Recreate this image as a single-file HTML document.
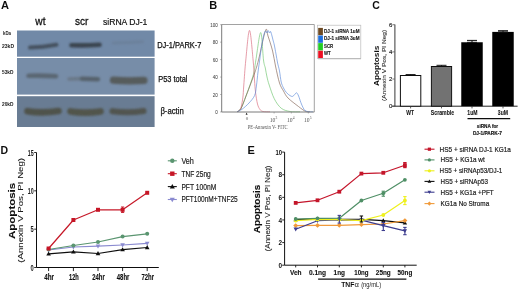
<!DOCTYPE html><html><head><meta charset="utf-8"><style>html,body{margin:0;padding:0;background:#fff;}svg{display:block;font-family:"Liberation Sans",sans-serif;}</style></head><body>
<svg width="520" height="290" viewBox="0 0 520 290">
<defs><filter id="b1" x="-20%" y="-50%" width="140%" height="200%"><feGaussianBlur stdDeviation="1.3"/></filter><filter id="b2" x="-20%" y="-50%" width="140%" height="200%"><feGaussianBlur stdDeviation="0.6"/></filter><filter id="bs" x="-5%" y="-5%" width="110%" height="110%"><feGaussianBlur stdDeviation="0.35"/></filter><filter id="gall" x="0" y="0" width="520" height="290" filterUnits="userSpaceOnUse"><feGaussianBlur stdDeviation="0.35"/></filter></defs>
<rect width="520" height="290" fill="#fff"/>
<g filter="url(#gall)">
<rect width="520" height="290" fill="#fff"/>
<g>
<text x="0.9" y="9" font-size="11.5" font-weight="bold" text-anchor="start" fill="#111" textLength="8" lengthAdjust="spacingAndGlyphs">A</text>
<text x="35.3" y="25.4" font-size="11.8" text-anchor="start" fill="#111" textLength="10.2" lengthAdjust="spacingAndGlyphs" stroke="#111" stroke-width="0.3">wt</text>
<text x="75" y="25.4" font-size="11.8" text-anchor="start" fill="#111" textLength="13.5" lengthAdjust="spacingAndGlyphs" stroke="#111" stroke-width="0.3">scr</text>
<text x="103" y="25.4" font-size="9.9" text-anchor="start" fill="#111" textLength="44.4" lengthAdjust="spacingAndGlyphs" stroke="#111" stroke-width="0.2">siRNA DJ-1</text>
<rect x="17" y="30.5" width="137.6" height="26.2" fill="#7189a7" stroke="none" stroke-width="0"/>
<rect x="17" y="58.0" width="137.6" height="36.6" fill="#778da8" stroke="none" stroke-width="0"/>
<rect x="17" y="96.2" width="137.6" height="30.8" fill="#697c93" stroke="none" stroke-width="0"/>
<g filter="url(#b1)">
<path d="M30,47.6 Q43,47.2 56.5,44.8" stroke="#45515e" stroke-width="4" stroke-linecap="round" fill="none"/>
<path d="M71.5,45.2 Q85,45.6 99.5,44.8" stroke="#3a4450" stroke-width="4.6" stroke-linecap="round" fill="none"/>
<path d="M113,43 Q128,42.6 142.5,41.8" stroke="#6c819b" stroke-width="3" stroke-linecap="round" fill="none"/>
<path d="M28.5,75.8 Q42,75.4 56,76.2" stroke="#5a6672" stroke-width="4.6" stroke-linecap="round" fill="none"/>
<path d="M69,79 Q77,78.6 82,78.6" stroke="#6a7888" stroke-width="3.6" stroke-linecap="round" fill="none"/>
<path d="M82,78.8 Q90,78.8 98,79.2" stroke="#56626c" stroke-width="4.4" stroke-linecap="round" fill="none"/>
<path d="M113.5,80.2 Q128,81.4 144,80.4" stroke="#575c5c" stroke-width="7.2" stroke-linecap="round" fill="none"/>
<path d="M27.5,111.2 Q42,113.6 58.5,111" stroke="#50534c" stroke-width="6.6" stroke-linecap="round" fill="none"/>
<path d="M70.5,111.4 Q85,113.8 100.5,111.4" stroke="#51544c" stroke-width="6.6" stroke-linecap="round" fill="none"/>
<path d="M112.5,111.2 Q128,113.4 143.5,111" stroke="#515550" stroke-width="6.2" stroke-linecap="round" fill="none"/>
</g>
<text x="3" y="34.5" font-size="4.8" font-weight="bold" text-anchor="start" fill="#222" textLength="8" lengthAdjust="spacingAndGlyphs">kDa</text>
<text x="2" y="48" font-size="6" font-weight="bold" text-anchor="start" fill="#1a1a1a" textLength="12" lengthAdjust="spacingAndGlyphs">23kD</text>
<text x="2" y="74" font-size="6" font-weight="bold" text-anchor="start" fill="#1a1a1a" textLength="11.5" lengthAdjust="spacingAndGlyphs">53kD</text>
<text x="2" y="105.5" font-size="6" font-weight="bold" text-anchor="start" fill="#1a1a1a" textLength="11.5" lengthAdjust="spacingAndGlyphs">20kD</text>
<text x="157.2" y="48.2" font-size="8.4" text-anchor="start" fill="#111" textLength="44.3" lengthAdjust="spacingAndGlyphs" stroke="#111" stroke-width="0.25">DJ-1/PARK-7</text>
<text x="158.2" y="81.5" font-size="8.8" text-anchor="start" fill="#111" textLength="29.3" lengthAdjust="spacingAndGlyphs" stroke="#111" stroke-width="0.25">P53 total</text>
<text x="160.4" y="113.5" font-size="9" text-anchor="start" fill="#111" textLength="23.4" lengthAdjust="spacingAndGlyphs" stroke="#111" stroke-width="0.25">β-actin</text>
</g>
<text x="209.3" y="9" font-size="11" font-weight="bold" text-anchor="start" fill="#111">B</text>
<line x1="221.7" y1="24.5" x2="314.3" y2="24.5" stroke="#8a8a8a" stroke-width="0.8"/>
<line x1="314.3" y1="24.5" x2="314.3" y2="112" stroke="#8a8a8a" stroke-width="0.8"/>
<line x1="221.7" y1="24.5" x2="221.7" y2="112" stroke="#7a7a7a" stroke-width="1"/>
<text x="217.7" y="26.7" font-size="4.5" text-anchor="end" fill="#4a4a4a" stroke="#4a4a4a" stroke-width="0.05">100</text>
<line x1="220.2" y1="24.7" x2="221.7" y2="24.7" stroke="#777" stroke-width="0.6"/>
<text x="217.7" y="44.15" font-size="4.5" text-anchor="end" fill="#4a4a4a" stroke="#4a4a4a" stroke-width="0.05">80</text>
<line x1="220.2" y1="42.15" x2="221.7" y2="42.15" stroke="#777" stroke-width="0.6"/>
<text x="217.7" y="61.599999999999994" font-size="4.5" text-anchor="end" fill="#4a4a4a" stroke="#4a4a4a" stroke-width="0.05">60</text>
<line x1="220.2" y1="59.599999999999994" x2="221.7" y2="59.599999999999994" stroke="#777" stroke-width="0.6"/>
<text x="217.7" y="79.05" font-size="4.5" text-anchor="end" fill="#4a4a4a" stroke="#4a4a4a" stroke-width="0.05">40</text>
<line x1="220.2" y1="77.05" x2="221.7" y2="77.05" stroke="#777" stroke-width="0.6"/>
<text x="217.7" y="96.5" font-size="4.5" text-anchor="end" fill="#4a4a4a" stroke="#4a4a4a" stroke-width="0.05">20</text>
<line x1="220.2" y1="94.5" x2="221.7" y2="94.5" stroke="#777" stroke-width="0.6"/>
<text x="217.7" y="113.95" font-size="4.5" text-anchor="end" fill="#4a4a4a" stroke="#4a4a4a" stroke-width="0.05">0</text>
<line x1="220.2" y1="111.95" x2="221.7" y2="111.95" stroke="#777" stroke-width="0.6"/>
<polygon points="246.6,112.6 245.6,114.8 247.6,114.8" fill="#222"/>
<text x="247" y="120.2" font-size="5" font-family="Liberation Serif, serif" text-anchor="middle" fill="#555">0</text>
<text x="272.6" y="122.2" font-size="5.6" font-family="Liberation Serif, serif" text-anchor="middle" fill="#555">10</text>
<text x="275.5" y="118.8" font-size="3.6" font-family="Liberation Serif, serif" text-anchor="start" fill="#555">3</text>
<line x1="274.1" y1="112" x2="274.1" y2="113.5" stroke="#888" stroke-width="0.6"/>
<text x="289.8" y="122.2" font-size="5.6" font-family="Liberation Serif, serif" text-anchor="middle" fill="#555">10</text>
<text x="292.7" y="118.8" font-size="3.6" font-family="Liberation Serif, serif" text-anchor="start" fill="#555">4</text>
<line x1="291.3" y1="112" x2="291.3" y2="113.5" stroke="#888" stroke-width="0.6"/>
<text x="306.8" y="122.2" font-size="5.6" font-family="Liberation Serif, serif" text-anchor="middle" fill="#555">10</text>
<text x="309.7" y="118.8" font-size="3.6" font-family="Liberation Serif, serif" text-anchor="start" fill="#555">5</text>
<line x1="308.3" y1="112" x2="308.3" y2="113.5" stroke="#888" stroke-width="0.6"/>
<text x="247.7" y="128.6" font-size="5.4" font-family="Liberation Serif, serif" text-anchor="start" fill="#555" textLength="40" lengthAdjust="spacingAndGlyphs">PE-Annexin V- FITC</text>
<path d="M237,111.8 C237.67,111.25 239.50,111.13 241,108.5 C242.50,105.87 244.33,100.42 246,96 C247.67,91.58 249.67,86.00 251,82 C252.33,78.00 253.18,75.67 254,72 C254.82,68.33 254.78,66.58 255.9,60 C257.02,53.42 259.43,32.50 260.7,32.5 C261.97,32.50 262.73,54.08 263.5,60 C264.27,65.92 264.72,65.17 265.3,68 C265.88,70.83 266.35,74.17 267,77 C267.65,79.83 267.98,81.37 269.2,85 C270.42,88.63 272.30,94.93 274.3,98.8 C276.30,102.67 278.58,106.08 281.2,108.2 C283.82,110.32 286.87,110.90 290,111.5 C293.13,112.10 298.33,111.75 300,111.8" fill="none" stroke="#6cc46c" stroke-width="0.65" stroke-linejoin="round"/>
<path d="M237,111.8 C237.58,111.33 239.53,111.30 240.5,109 C241.47,106.70 242.25,102.00 242.8,98 C243.35,94.00 243.30,91.33 243.8,85 C244.30,78.67 244.85,69.10 245.8,60 C246.75,50.90 248.28,30.40 249.5,30.4 C250.72,30.40 252.27,51.73 253.1,60 C253.93,68.27 254.10,74.67 254.5,80 C254.90,85.33 255.00,88.00 255.5,92 C256.00,96.00 256.75,101.08 257.5,104 C258.25,106.92 259.08,108.25 260,109.5 C260.92,110.75 261.33,111.12 263,111.5 C264.67,111.88 268.83,111.75 270,111.8" fill="none" stroke="#d8687a" stroke-width="0.65" stroke-linejoin="round"/>
<path d="M237,111.8 C237.67,111.25 239.50,111.13 241,108.5 C242.50,105.87 244.33,100.25 246,96 C247.67,91.75 249.50,87.00 251,83 C252.50,79.00 253.75,75.83 255,72 C256.25,68.17 256.75,66.92 258.5,60 C260.25,53.08 263.92,34.50 265.5,30.5 C267.08,26.50 266.82,32.58 268,36 C269.18,39.42 271.35,46.00 272.6,51 C273.85,56.00 274.35,60.67 275.5,66 C276.65,71.33 278.17,78.83 279.5,83 C280.83,87.17 282.08,88.50 283.5,91 C284.92,93.50 285.50,95.42 288,98 C290.50,100.58 295.60,104.28 298.5,106.5 C301.40,108.72 303.48,110.42 305.4,111.3 C307.32,112.18 309.23,111.72 310,111.8" fill="none" stroke="#806050" stroke-width="0.65" stroke-linejoin="round"/>
<path d="M237,111.8 C237.83,111.38 240.00,110.77 242,109.3 C244.00,107.83 246.90,105.30 249,103 C251.10,100.70 253.37,98.33 254.6,95.5 C255.83,92.67 255.83,89.92 256.4,86 C256.97,82.08 257.45,76.33 258,72 C258.55,67.67 259.10,64.33 259.7,60 C260.30,55.67 260.92,50.17 261.6,46 C262.28,41.83 263.13,37.50 263.8,35 C264.47,32.50 265.07,31.33 265.6,31 C266.13,30.67 266.57,33.07 267,33 C267.43,32.93 267.78,30.60 268.2,30.6 C268.62,30.60 269.10,32.85 269.5,33 C269.90,33.15 270.18,31.00 270.6,31.5 C271.02,32.00 271.60,34.58 272,36 C272.40,37.42 272.62,38.50 273,40 C273.38,41.50 273.80,42.67 274.3,45 C274.80,47.33 275.45,51.00 276,54 C276.55,57.00 277.02,60.17 277.6,63 C278.18,65.83 278.90,67.83 279.5,71 C280.10,74.17 280.53,79.17 281.2,82 C281.87,84.83 282.63,86.25 283.5,88 C284.37,89.75 285.32,91.23 286.4,92.5 C287.48,93.77 288.97,94.95 290,95.6 C291.03,96.25 291.83,96.57 292.6,96.4 C293.37,96.23 293.93,95.20 294.6,94.6 C295.27,94.00 295.93,92.57 296.6,92.8 C297.27,93.03 297.90,94.40 298.6,96 C299.30,97.60 300.07,100.48 300.8,102.4 C301.53,104.32 302.30,106.15 303,107.5 C303.70,108.85 304.17,109.82 305,110.5 C305.83,111.18 306.67,111.38 308,111.6 C309.33,111.82 312.17,111.77 313,111.8" fill="none" stroke="#5a88d8" stroke-width="0.65" stroke-linejoin="round"/>
<line x1="221.7" y1="112" x2="314.3" y2="112" stroke="#7a7a7a" stroke-width="1"/>
<rect x="317.6" y="25.2" width="43.2" height="33.2" fill="#fff" stroke="#bbb" stroke-width="0.7"/>
<line x1="318" y1="58.6" x2="361" y2="58.6" stroke="#bbb" stroke-width="1.2"/>
<rect x="318.2" y="27.9" width="4.7" height="7.3" fill="#6e4a20" stroke="none" stroke-width="0"/>
<text x="324" y="32.6" font-size="6" font-weight="bold" text-anchor="start" fill="#1a1a1a" textLength="35.5" lengthAdjust="spacingAndGlyphs" stroke="#1a1a1a" stroke-width="0.15">DJ-1 siRNA 1uM</text>
<rect x="318.2" y="35.5" width="4.7" height="7.3" fill="#1f6fe0" stroke="none" stroke-width="0"/>
<text x="324" y="40.2" font-size="6" font-weight="bold" text-anchor="start" fill="#1a1a1a" textLength="35.5" lengthAdjust="spacingAndGlyphs" stroke="#1a1a1a" stroke-width="0.15">DJ-1 siRNA 3uM</text>
<rect x="318.2" y="43.099999999999994" width="4.7" height="7.3" fill="#22cc22" stroke="none" stroke-width="0"/>
<text x="324" y="47.8" font-size="6" font-weight="bold" text-anchor="start" fill="#1a1a1a" textLength="9.2" lengthAdjust="spacingAndGlyphs" stroke="#1a1a1a" stroke-width="0.15">SCR</text>
<rect x="318.2" y="50.699999999999996" width="4.7" height="7.3" fill="#ee1122" stroke="none" stroke-width="0"/>
<text x="324" y="55.4" font-size="6" font-weight="bold" text-anchor="start" fill="#1a1a1a" textLength="6.6" lengthAdjust="spacingAndGlyphs" stroke="#1a1a1a" stroke-width="0.15">WT</text>
<text x="372.3" y="9" font-size="10.5" font-weight="bold" text-anchor="start" fill="#111">C</text>
<line x1="394.85" y1="24.4" x2="394.85" y2="106.2" stroke="#7a7a7a" stroke-width="1.5"/>
<line x1="392.2" y1="106.2" x2="517.6" y2="106.2" stroke="#222" stroke-width="1"/>
<line x1="392.4" y1="106.2" x2="394.8" y2="106.2" stroke="#555" stroke-width="0.8"/>
<text x="392.4" y="108.3" font-size="6" text-anchor="end" fill="#222" stroke="#222" stroke-width="0.15">0</text>
<line x1="392.4" y1="79.04" x2="394.8" y2="79.04" stroke="#555" stroke-width="0.8"/>
<text x="392.4" y="81.14" font-size="6" text-anchor="end" fill="#222" stroke="#222" stroke-width="0.15">2</text>
<line x1="392.4" y1="51.88" x2="394.8" y2="51.88" stroke="#555" stroke-width="0.8"/>
<text x="392.4" y="53.980000000000004" font-size="6" text-anchor="end" fill="#222" stroke="#222" stroke-width="0.15">4</text>
<line x1="392.4" y1="24.72" x2="394.8" y2="24.72" stroke="#555" stroke-width="0.8"/>
<text x="392.4" y="26.82" font-size="6" text-anchor="end" fill="#222" stroke="#222" stroke-width="0.15">6</text>
<text transform="translate(378.7,65.8) scale(0.8,1) rotate(-90)" x="0" y="0" font-size="8.2" font-weight="bold" text-anchor="middle" fill="#111" textLength="40.2" lengthAdjust="spacingAndGlyphs">Apoptosis</text>
<text transform="translate(386.1,65.4) scale(0.9,1) rotate(-90)" x="0" y="0" font-size="6.3" text-anchor="middle" fill="#2a2a2a" textLength="71.2" lengthAdjust="spacingAndGlyphs" stroke="#2a2a2a" stroke-width="0.1">(Annexin V Pos, PI Neg)</text>
<rect x="400.4" y="75.5" width="20.4" height="30.700000000000003" fill="#fff" stroke="#111" stroke-width="1"/>
<rect x="431.4" y="66.5" width="20.2" height="39.7" fill="#727272" stroke="#111" stroke-width="1"/>
<rect x="461.25" y="42.25" width="21.5" height="63.95" fill="#050505" stroke="none" stroke-width="0"/>
<rect x="492.25" y="31.9" width="21.5" height="74.30000000000001" fill="#050505" stroke="none" stroke-width="0"/>
<line x1="410.6" y1="74.6" x2="410.6" y2="75.5" stroke="#111" stroke-width="1"/>
<line x1="405.6" y1="74.6" x2="415.6" y2="74.6" stroke="#111" stroke-width="1"/>
<line x1="405.6" y1="75.5" x2="415.6" y2="75.5" stroke="#111" stroke-width="1"/>
<line x1="441.5" y1="65.3" x2="441.5" y2="66.5" stroke="#111" stroke-width="1"/>
<line x1="436.5" y1="65.3" x2="446.5" y2="65.3" stroke="#111" stroke-width="1"/>
<line x1="436.5" y1="66.5" x2="446.5" y2="66.5" stroke="#111" stroke-width="1"/>
<line x1="472" y1="40.4" x2="472" y2="42.3" stroke="#111" stroke-width="1"/>
<line x1="467" y1="40.4" x2="477" y2="40.4" stroke="#111" stroke-width="1"/>
<line x1="467" y1="42.3" x2="477" y2="42.3" stroke="#111" stroke-width="1"/>
<line x1="503" y1="30.7" x2="503" y2="31.9" stroke="#111" stroke-width="1"/>
<line x1="498" y1="30.7" x2="508" y2="30.7" stroke="#111" stroke-width="1"/>
<line x1="498" y1="31.9" x2="508" y2="31.9" stroke="#111" stroke-width="1"/>
<line x1="410.6" y1="106.2" x2="410.6" y2="108.4" stroke="#333" stroke-width="0.8"/>
<line x1="441.5" y1="106.2" x2="441.5" y2="108.4" stroke="#333" stroke-width="0.8"/>
<line x1="472" y1="106.2" x2="472" y2="108.4" stroke="#333" stroke-width="0.8"/>
<line x1="503" y1="106.2" x2="503" y2="108.4" stroke="#333" stroke-width="0.8"/>
<text x="410.2" y="114.8" font-size="6.4" font-weight="bold" text-anchor="middle" fill="#151515" textLength="7.8" lengthAdjust="spacingAndGlyphs" stroke="#151515" stroke-width="0.08">WT</text>
<text x="442.5" y="114.8" font-size="6.4" font-weight="bold" text-anchor="middle" fill="#151515" textLength="23.3" lengthAdjust="spacingAndGlyphs" stroke="#151515" stroke-width="0.08">Scramble</text>
<text x="472.4" y="114.8" font-size="6.4" font-weight="bold" text-anchor="middle" fill="#151515" textLength="10.2" lengthAdjust="spacingAndGlyphs" stroke="#151515" stroke-width="0.08">1uM</text>
<text x="502.9" y="114.8" font-size="6.4" font-weight="bold" text-anchor="middle" fill="#151515" textLength="10.2" lengthAdjust="spacingAndGlyphs" stroke="#151515" stroke-width="0.08">3uM</text>
<line x1="467.5" y1="118.6" x2="510.2" y2="118.6" stroke="#111" stroke-width="1.2"/>
<text x="487.5" y="128.2" font-size="6.2" font-weight="bold" text-anchor="middle" fill="#151515" textLength="21.4" lengthAdjust="spacingAndGlyphs" stroke="#151515" stroke-width="0.2">siRNA for</text>
<text x="487.4" y="134.5" font-size="6.2" font-weight="bold" text-anchor="middle" fill="#151515" textLength="29" lengthAdjust="spacingAndGlyphs" stroke="#151515" stroke-width="0.2">DJ-1/PARK-7</text>
<text x="0.4" y="154" font-size="10.5" font-weight="bold" text-anchor="start" fill="#111">D</text>
<line x1="36.5" y1="152.5" x2="36.5" y2="267.5" stroke="#111" stroke-width="1"/>
<line x1="36.5" y1="267.5" x2="158.8" y2="267.5" stroke="#111" stroke-width="1"/>
<line x1="34.2" y1="267.5" x2="36.5" y2="267.5" stroke="#111" stroke-width="0.9"/>
<text x="33.6" y="270.7" font-size="8.4" font-weight="bold" text-anchor="end" fill="#1a1a1a" textLength="3.2" lengthAdjust="spacingAndGlyphs">0</text>
<line x1="34.2" y1="229.16666666666666" x2="36.5" y2="229.16666666666666" stroke="#111" stroke-width="0.9"/>
<text x="33.6" y="232.36666666666665" font-size="8.4" font-weight="bold" text-anchor="end" fill="#1a1a1a" textLength="3.2" lengthAdjust="spacingAndGlyphs">5</text>
<line x1="34.2" y1="190.83333333333331" x2="36.5" y2="190.83333333333331" stroke="#111" stroke-width="0.9"/>
<text x="33.6" y="194.0333333333333" font-size="8.4" font-weight="bold" text-anchor="end" fill="#1a1a1a" textLength="5.9" lengthAdjust="spacingAndGlyphs">10</text>
<line x1="34.2" y1="152.5" x2="36.5" y2="152.5" stroke="#111" stroke-width="0.9"/>
<text x="33.6" y="155.7" font-size="8.4" font-weight="bold" text-anchor="end" fill="#1a1a1a" textLength="5.9" lengthAdjust="spacingAndGlyphs">15</text>
<text transform="translate(15.1,210.9) scale(0.72,1) rotate(-90)" x="0" y="0" font-size="11.5" font-weight="bold" text-anchor="middle" fill="#111" textLength="56.2" lengthAdjust="spacingAndGlyphs" stroke="#111" stroke-width="0.15">Apoptosis</text>
<text transform="translate(22.7,210.3) scale(0.74,1) rotate(-90)" x="0" y="0" font-size="9.2" text-anchor="middle" fill="#1a1a1a" textLength="104.8" lengthAdjust="spacingAndGlyphs" stroke="#1a1a1a" stroke-width="0.1">(Annexin V Pos, PI Neg)</text>
<line x1="48.6" y1="267.5" x2="48.6" y2="271.1" stroke="#111" stroke-width="0.9"/>
<text x="49.1" y="279.6" font-size="9" font-weight="bold" text-anchor="middle" fill="#111" textLength="9.8" lengthAdjust="spacingAndGlyphs" stroke="#111" stroke-width="0.15">4hr</text>
<line x1="73.4" y1="267.5" x2="73.4" y2="271.1" stroke="#111" stroke-width="0.9"/>
<text x="73.9" y="279.6" font-size="9" font-weight="bold" text-anchor="middle" fill="#111" textLength="9.8" lengthAdjust="spacingAndGlyphs" stroke="#111" stroke-width="0.15">12h</text>
<line x1="98" y1="267.5" x2="98" y2="271.1" stroke="#111" stroke-width="0.9"/>
<text x="98.5" y="279.6" font-size="9" font-weight="bold" text-anchor="middle" fill="#111" textLength="12.6" lengthAdjust="spacingAndGlyphs" stroke="#111" stroke-width="0.15">24hr</text>
<line x1="122.6" y1="267.5" x2="122.6" y2="271.1" stroke="#111" stroke-width="0.9"/>
<text x="123.1" y="279.6" font-size="9" font-weight="bold" text-anchor="middle" fill="#111" textLength="12.6" lengthAdjust="spacingAndGlyphs" stroke="#111" stroke-width="0.15">48hr</text>
<line x1="147.2" y1="267.5" x2="147.2" y2="271.1" stroke="#111" stroke-width="0.9"/>
<text x="147.7" y="279.6" font-size="9" font-weight="bold" text-anchor="middle" fill="#111" textLength="12.6" lengthAdjust="spacingAndGlyphs" stroke="#111" stroke-width="0.15">72hr</text>
<polyline points="48.6,250 73.4,247 98,246.2 122.6,245 147.2,243.4" fill="none" stroke="#8a8ad0" stroke-width="1.2" stroke-linejoin="round"/>
<polygon points="48.6,252.4 46.300000000000004,248.3 50.9,248.3" fill="#8a8ad0"/>
<polygon points="73.4,249.4 71.10000000000001,245.3 75.7,245.3" fill="#8a8ad0"/>
<polygon points="98,248.6 95.7,244.5 100.3,244.5" fill="#8a8ad0"/>
<polygon points="122.6,247.4 120.3,243.3 124.89999999999999,243.3" fill="#8a8ad0"/>
<polygon points="147.2,245.8 144.89999999999998,241.70000000000002 149.5,241.70000000000002" fill="#8a8ad0"/>
<polyline points="48.6,249.5 73.4,245.5 98,242 122.6,236.6 147.2,233.8" fill="none" stroke="#5a9570" stroke-width="1.2" stroke-linejoin="round"/>
<circle cx="48.6" cy="249.5" r="2.0" fill="#5a9570"/>
<circle cx="73.4" cy="245.5" r="2.0" fill="#5a9570"/>
<circle cx="98" cy="242" r="2.0" fill="#5a9570"/>
<circle cx="122.6" cy="236.6" r="2.0" fill="#5a9570"/>
<circle cx="147.2" cy="233.8" r="2.0" fill="#5a9570"/>
<polyline points="48.6,253.8 73.4,251.8 98,253.5 122.6,249.6 147.2,247.5" fill="none" stroke="#111111" stroke-width="1.2" stroke-linejoin="round"/>
<polygon points="48.6,251.4 46.300000000000004,255.5 50.9,255.5" fill="#111111"/>
<polygon points="73.4,249.4 71.10000000000001,253.5 75.7,253.5" fill="#111111"/>
<polygon points="98,251.1 95.7,255.2 100.3,255.2" fill="#111111"/>
<polygon points="122.6,247.2 120.3,251.29999999999998 124.89999999999999,251.29999999999998" fill="#111111"/>
<polygon points="147.2,245.1 144.89999999999998,249.2 149.5,249.2" fill="#111111"/>
<polyline points="48.6,248.5 73.4,220 98,209.8 122.6,209.8 147.2,192.8" fill="none" stroke="#c61828" stroke-width="1.2" stroke-linejoin="round"/>
<rect x="46.6" y="246.5" width="4.0" height="4.0" fill="#c61828" stroke="none" stroke-width="0"/>
<rect x="71.4" y="218.0" width="4.0" height="4.0" fill="#c61828" stroke="none" stroke-width="0"/>
<rect x="96.0" y="207.8" width="4.0" height="4.0" fill="#c61828" stroke="none" stroke-width="0"/>
<rect x="120.6" y="207.8" width="4.0" height="4.0" fill="#c61828" stroke="none" stroke-width="0"/>
<rect x="145.2" y="190.8" width="4.0" height="4.0" fill="#c61828" stroke="none" stroke-width="0"/>
<line x1="122.6" y1="207" x2="122.6" y2="212.4" stroke="#c61828" stroke-width="1"/>
<line x1="121.0" y1="207" x2="124.19999999999999" y2="207" stroke="#c61828" stroke-width="1"/>
<line x1="121.0" y1="212.4" x2="124.19999999999999" y2="212.4" stroke="#c61828" stroke-width="1"/>
<line x1="167.8" y1="160.8" x2="176.8" y2="160.8" stroke="#5a9570" stroke-width="1.1"/>
<circle cx="172.3" cy="160.8" r="2.2" fill="#5a9570"/>
<text x="181.4" y="163.70000000000002" font-size="9.9" text-anchor="start" fill="#1a1a1a" textLength="12.5" lengthAdjust="spacingAndGlyphs" stroke="#1a1a1a" stroke-width="0.2">Veh</text>
<line x1="167.8" y1="173.70000000000002" x2="176.8" y2="173.70000000000002" stroke="#c61828" stroke-width="1.1"/>
<rect x="170.10000000000002" y="171.50000000000003" width="4.4" height="4.4" fill="#c61828" stroke="none" stroke-width="0"/>
<text x="181.4" y="176.60000000000002" font-size="9.9" text-anchor="start" fill="#1a1a1a" textLength="29.4" lengthAdjust="spacingAndGlyphs" stroke="#1a1a1a" stroke-width="0.2">TNF 25ng</text>
<line x1="167.8" y1="186.60000000000002" x2="176.8" y2="186.60000000000002" stroke="#111111" stroke-width="1.1"/>
<polygon points="172.3,183.96000000000004 169.77,188.47000000000003 174.83,188.47000000000003" fill="#111111"/>
<text x="181.4" y="189.50000000000003" font-size="9.9" text-anchor="start" fill="#1a1a1a" textLength="34.9" lengthAdjust="spacingAndGlyphs" stroke="#1a1a1a" stroke-width="0.2">PFT 100nM</text>
<line x1="167.8" y1="199.5" x2="176.8" y2="199.5" stroke="#8a8ad0" stroke-width="1.1"/>
<polygon points="172.3,202.14 169.77,197.63 174.83,197.63" fill="#8a8ad0"/>
<text x="181.4" y="202.4" font-size="9.9" text-anchor="start" fill="#1a1a1a" textLength="56.3" lengthAdjust="spacingAndGlyphs" stroke="#1a1a1a" stroke-width="0.2">PFT100nM+TNF25</text>
<text x="247.4" y="154" font-size="11" font-weight="bold" text-anchor="start" fill="#111">E</text>
<line x1="284.6" y1="152.1" x2="284.6" y2="265.2" stroke="#111" stroke-width="1"/>
<line x1="284.6" y1="265.2" x2="416.7" y2="265.2" stroke="#111" stroke-width="1"/>
<line x1="282.2" y1="265.2" x2="284.6" y2="265.2" stroke="#111" stroke-width="0.9"/>
<text x="282.0" y="267.8" font-size="7.6" font-weight="bold" text-anchor="end" fill="#111" textLength="3.6" lengthAdjust="spacingAndGlyphs">0</text>
<line x1="282.2" y1="242.57999999999998" x2="284.6" y2="242.57999999999998" stroke="#111" stroke-width="0.9"/>
<text x="282.0" y="245.17999999999998" font-size="7.6" font-weight="bold" text-anchor="end" fill="#111" textLength="3.6" lengthAdjust="spacingAndGlyphs">2</text>
<line x1="282.2" y1="219.95999999999998" x2="284.6" y2="219.95999999999998" stroke="#111" stroke-width="0.9"/>
<text x="282.0" y="222.55999999999997" font-size="7.6" font-weight="bold" text-anchor="end" fill="#111" textLength="3.6" lengthAdjust="spacingAndGlyphs">4</text>
<line x1="282.2" y1="197.34" x2="284.6" y2="197.34" stroke="#111" stroke-width="0.9"/>
<text x="282.0" y="199.94" font-size="7.6" font-weight="bold" text-anchor="end" fill="#111" textLength="3.6" lengthAdjust="spacingAndGlyphs">6</text>
<line x1="282.2" y1="174.72" x2="284.6" y2="174.72" stroke="#111" stroke-width="0.9"/>
<text x="282.0" y="177.32" font-size="7.6" font-weight="bold" text-anchor="end" fill="#111" textLength="3.6" lengthAdjust="spacingAndGlyphs">8</text>
<line x1="282.2" y1="152.1" x2="284.6" y2="152.1" stroke="#111" stroke-width="0.9"/>
<text x="282.0" y="154.7" font-size="7.6" font-weight="bold" text-anchor="end" fill="#111" textLength="6.6" lengthAdjust="spacingAndGlyphs">10</text>
<text transform="translate(260.1,209) scale(0.92,1) rotate(-90)" x="0" y="0" font-size="9.9" font-weight="bold" text-anchor="middle" fill="#111" textLength="48.3" lengthAdjust="spacingAndGlyphs" stroke="#111" stroke-width="0.15">Apoptosis</text>
<text transform="translate(270.2,208.4) scale(0.86,1) rotate(-90)" x="0" y="0" font-size="7.6" text-anchor="middle" fill="#2a2a2a" textLength="85.8" lengthAdjust="spacingAndGlyphs" stroke="#2a2a2a" stroke-width="0.12">(Annexin V Pos, PI Neg)</text>
<line x1="295.7" y1="265.2" x2="295.7" y2="267.4" stroke="#111" stroke-width="0.9"/>
<text x="295.7" y="274.9" font-size="7.2" font-weight="bold" text-anchor="middle" fill="#111" textLength="11.6" lengthAdjust="spacingAndGlyphs" stroke="#111" stroke-width="0.12">Veh</text>
<line x1="317.5" y1="265.2" x2="317.5" y2="267.4" stroke="#111" stroke-width="0.9"/>
<text x="317.5" y="274.9" font-size="7.2" font-weight="bold" text-anchor="middle" fill="#111" textLength="17.1" lengthAdjust="spacingAndGlyphs" stroke="#111" stroke-width="0.12">0.1ng</text>
<line x1="339.3" y1="265.2" x2="339.3" y2="267.4" stroke="#111" stroke-width="0.9"/>
<text x="339.3" y="274.9" font-size="7.2" font-weight="bold" text-anchor="middle" fill="#111" textLength="11.4" lengthAdjust="spacingAndGlyphs" stroke="#111" stroke-width="0.12">1ng</text>
<line x1="361.4" y1="265.2" x2="361.4" y2="267.4" stroke="#111" stroke-width="0.9"/>
<text x="361.4" y="274.9" font-size="7.2" font-weight="bold" text-anchor="middle" fill="#111" textLength="14.3" lengthAdjust="spacingAndGlyphs" stroke="#111" stroke-width="0.12">10ng</text>
<line x1="383.3" y1="265.2" x2="383.3" y2="267.4" stroke="#111" stroke-width="0.9"/>
<text x="383.3" y="274.9" font-size="7.2" font-weight="bold" text-anchor="middle" fill="#111" textLength="14.9" lengthAdjust="spacingAndGlyphs" stroke="#111" stroke-width="0.12">25ng</text>
<line x1="404.9" y1="265.2" x2="404.9" y2="267.4" stroke="#111" stroke-width="0.9"/>
<text x="404.9" y="274.9" font-size="7.2" font-weight="bold" text-anchor="middle" fill="#111" textLength="14.7" lengthAdjust="spacingAndGlyphs" stroke="#111" stroke-width="0.12">50ng</text>
<line x1="318.1" y1="279.1" x2="406.4" y2="279.1" stroke="#111" stroke-width="1.3"/>
<text x="341.2" y="287.2" font-size="7.6" font-weight="bold" text-anchor="start" fill="#111" textLength="13.2" lengthAdjust="spacingAndGlyphs">TNF</text>
<text x="354.6" y="287.2" font-size="7.6" text-anchor="start" fill="#111">α</text>
<text x="361.2" y="287.2" font-size="6.6" text-anchor="start" fill="#222" textLength="20" lengthAdjust="spacingAndGlyphs">(ng/mL)</text>
<polyline points="295.7,219.6 317.5,218.8 339.3,219.4 361.4,219.4 383.3,220.6 404.9,222.8" fill="none" stroke="#111111" stroke-width="1.2" stroke-linejoin="round"/>
<polygon points="295.7,217.32 293.515,221.215 297.885,221.215" fill="#111111"/>
<polygon points="317.5,216.52 315.315,220.41500000000002 319.685,220.41500000000002" fill="#111111"/>
<polygon points="339.3,217.12 337.115,221.01500000000001 341.485,221.01500000000001" fill="#111111"/>
<polygon points="361.4,217.12 359.215,221.01500000000001 363.585,221.01500000000001" fill="#111111"/>
<polygon points="383.3,218.32 381.115,222.215 385.485,222.215" fill="#111111"/>
<polygon points="404.9,220.52 402.715,224.41500000000002 407.085,224.41500000000002" fill="#111111"/>
<polyline points="295.7,225.6 317.5,225.4 339.3,225.3 361.4,224.6 383.3,224.0 404.9,220.6" fill="none" stroke="#f09a3a" stroke-width="1.2" stroke-linejoin="round"/>
<polygon points="295.7,223.13 293.22999999999996,225.6 295.7,228.07 298.17,225.6" fill="#f09a3a"/>
<polygon points="317.5,222.93 315.03,225.4 317.5,227.87 319.97,225.4" fill="#f09a3a"/>
<polygon points="339.3,222.83 336.83,225.3 339.3,227.77 341.77000000000004,225.3" fill="#f09a3a"/>
<polygon points="361.4,222.13 358.92999999999995,224.6 361.4,227.07 363.87,224.6" fill="#f09a3a"/>
<polygon points="383.3,221.53 380.83,224.0 383.3,226.47 385.77000000000004,224.0" fill="#f09a3a"/>
<polygon points="404.9,218.13 402.42999999999995,220.6 404.9,223.07 407.37,220.6" fill="#f09a3a"/>
<polyline points="295.7,229.2 317.5,220.7 339.3,219.8 361.4,220.2 383.3,225.6 404.9,230.8" fill="none" stroke="#3d3d8f" stroke-width="1.2" stroke-linejoin="round"/>
<polygon points="295.7,231.48 293.515,227.58499999999998 297.885,227.58499999999998" fill="#3d3d8f"/>
<polygon points="317.5,222.98 315.315,219.08499999999998 319.685,219.08499999999998" fill="#3d3d8f"/>
<polygon points="339.3,222.08 337.115,218.185 341.485,218.185" fill="#3d3d8f"/>
<polygon points="361.4,222.48 359.215,218.58499999999998 363.585,218.58499999999998" fill="#3d3d8f"/>
<polygon points="383.3,227.88 381.115,223.98499999999999 385.485,223.98499999999999" fill="#3d3d8f"/>
<polygon points="404.9,233.08 402.715,229.185 407.085,229.185" fill="#3d3d8f"/>
<polyline points="295.7,220.6 317.5,219.4 339.3,219.6 361.4,220.6 383.3,215 404.9,200.5" fill="none" stroke="#eef01c" stroke-width="1.2" stroke-linejoin="round"/>
<circle cx="295.7" cy="220.6" r="1.9" fill="#eef01c"/>
<circle cx="317.5" cy="219.4" r="1.9" fill="#eef01c"/>
<circle cx="339.3" cy="219.6" r="1.9" fill="#eef01c"/>
<circle cx="361.4" cy="220.6" r="1.9" fill="#eef01c"/>
<circle cx="383.3" cy="215" r="1.9" fill="#eef01c"/>
<circle cx="404.9" cy="200.5" r="1.9" fill="#eef01c"/>
<polyline points="295.7,219.0 317.5,218.3 339.3,218.2 361.4,200.5 383.3,193.3 404.9,179.8" fill="none" stroke="#4f8f66" stroke-width="1.2" stroke-linejoin="round"/>
<circle cx="295.7" cy="219.0" r="1.9" fill="#4f8f66"/>
<circle cx="317.5" cy="218.3" r="1.9" fill="#4f8f66"/>
<circle cx="339.3" cy="218.2" r="1.9" fill="#4f8f66"/>
<circle cx="361.4" cy="200.5" r="1.9" fill="#4f8f66"/>
<circle cx="383.3" cy="193.3" r="1.9" fill="#4f8f66"/>
<circle cx="404.9" cy="179.8" r="1.9" fill="#4f8f66"/>
<polyline points="295.7,202.9 317.5,200.3 339.3,191.7 361.4,173.6 383.3,172.8 404.9,165.2" fill="none" stroke="#c4142a" stroke-width="1.2" stroke-linejoin="round"/>
<rect x="293.8" y="201.0" width="3.8" height="3.8" fill="#c4142a" stroke="none" stroke-width="0"/>
<rect x="315.6" y="198.4" width="3.8" height="3.8" fill="#c4142a" stroke="none" stroke-width="0"/>
<rect x="337.40000000000003" y="189.79999999999998" width="3.8" height="3.8" fill="#c4142a" stroke="none" stroke-width="0"/>
<rect x="359.5" y="171.7" width="3.8" height="3.8" fill="#c4142a" stroke="none" stroke-width="0"/>
<rect x="381.40000000000003" y="170.9" width="3.8" height="3.8" fill="#c4142a" stroke="none" stroke-width="0"/>
<rect x="403.0" y="163.29999999999998" width="3.8" height="3.8" fill="#c4142a" stroke="none" stroke-width="0"/>
<line x1="404.9" y1="162.6" x2="404.9" y2="167.6" stroke="#c4142a" stroke-width="1.2"/>
<line x1="403.2" y1="162.6" x2="406.59999999999997" y2="162.6" stroke="#c4142a" stroke-width="1.2"/>
<line x1="403.2" y1="167.6" x2="406.59999999999997" y2="167.6" stroke="#c4142a" stroke-width="1.2"/>
<line x1="383.3" y1="191.2" x2="383.3" y2="196.2" stroke="#4f8f66" stroke-width="1.1"/>
<line x1="381.6" y1="191.2" x2="385.0" y2="191.2" stroke="#4f8f66" stroke-width="1.1"/>
<line x1="381.6" y1="196.2" x2="385.0" y2="196.2" stroke="#4f8f66" stroke-width="1.1"/>
<line x1="404.9" y1="196.6" x2="404.9" y2="204.6" stroke="#eef01c" stroke-width="1.1"/>
<line x1="403.2" y1="196.6" x2="406.59999999999997" y2="196.6" stroke="#eef01c" stroke-width="1.1"/>
<line x1="403.2" y1="204.6" x2="406.59999999999997" y2="204.6" stroke="#eef01c" stroke-width="1.1"/>
<line x1="404.9" y1="227.4" x2="404.9" y2="234.7" stroke="#3d3d8f" stroke-width="1.1"/>
<line x1="403.2" y1="227.4" x2="406.59999999999997" y2="227.4" stroke="#3d3d8f" stroke-width="1.1"/>
<line x1="403.2" y1="234.7" x2="406.59999999999997" y2="234.7" stroke="#3d3d8f" stroke-width="1.1"/>
<line x1="383.3" y1="222.5" x2="383.3" y2="230.5" stroke="#3d3d8f" stroke-width="1.1"/>
<line x1="381.6" y1="222.5" x2="385.0" y2="222.5" stroke="#3d3d8f" stroke-width="1.1"/>
<line x1="381.6" y1="230.5" x2="385.0" y2="230.5" stroke="#3d3d8f" stroke-width="1.1"/>
<line x1="339.3" y1="215.4" x2="339.3" y2="223.1" stroke="#3d3d8f" stroke-width="1.1"/>
<line x1="337.6" y1="215.4" x2="341.0" y2="215.4" stroke="#3d3d8f" stroke-width="1.1"/>
<line x1="337.6" y1="223.1" x2="341.0" y2="223.1" stroke="#3d3d8f" stroke-width="1.1"/>
<line x1="361.4" y1="216" x2="361.4" y2="222" stroke="#111" stroke-width="1.1"/>
<line x1="359.7" y1="216" x2="363.09999999999997" y2="216" stroke="#111" stroke-width="1.1"/>
<line x1="359.7" y1="222" x2="363.09999999999997" y2="222" stroke="#111" stroke-width="1.1"/>
<line x1="424.5" y1="149.2" x2="434.5" y2="149.2" stroke="#c4142a" stroke-width="1.1"/>
<rect x="427.79999999999995" y="147.6" width="3.2" height="3.2" fill="#c4142a" stroke="none" stroke-width="0"/>
<text x="439.6" y="151.6" font-size="7.6" text-anchor="start" fill="#1a1a1a" textLength="71.3" lengthAdjust="spacingAndGlyphs" stroke="#1a1a1a" stroke-width="0.2">HS5 + siRNA DJ-1 KG1a</text>
<line x1="424.5" y1="159.9" x2="434.5" y2="159.9" stroke="#4f8f66" stroke-width="1.1"/>
<circle cx="429.4" cy="159.9" r="1.6" fill="#4f8f66"/>
<text x="440.5" y="162.3" font-size="7.6" text-anchor="start" fill="#1a1a1a" textLength="44.2" lengthAdjust="spacingAndGlyphs" stroke="#1a1a1a" stroke-width="0.2">HS5 + KG1a wt</text>
<line x1="424.5" y1="170.8" x2="434.5" y2="170.8" stroke="#eef01c" stroke-width="1.1"/>
<circle cx="429.4" cy="170.8" r="1.6" fill="#eef01c"/>
<text x="439.6" y="173.20000000000002" font-size="7.6" text-anchor="start" fill="#1a1a1a" textLength="62.7" lengthAdjust="spacingAndGlyphs" stroke="#1a1a1a" stroke-width="0.2">HS5 + siRNAp53/DJ-1</text>
<line x1="424.5" y1="181.4" x2="434.5" y2="181.4" stroke="#111111" stroke-width="1.1"/>
<polygon points="429.4,179.48000000000002 427.56,182.76000000000002 431.23999999999995,182.76000000000002" fill="#111111"/>
<text x="440.5" y="183.8" font-size="7.6" text-anchor="start" fill="#1a1a1a" textLength="47.5" lengthAdjust="spacingAndGlyphs" stroke="#1a1a1a" stroke-width="0.2">HS5 + siRNAp53</text>
<line x1="424.5" y1="192.2" x2="434.5" y2="192.2" stroke="#3d3d8f" stroke-width="1.1"/>
<polygon points="429.4,194.11999999999998 427.56,190.83999999999997 431.23999999999995,190.83999999999997" fill="#3d3d8f"/>
<text x="440.5" y="194.6" font-size="7.6" text-anchor="start" fill="#1a1a1a" textLength="53.2" lengthAdjust="spacingAndGlyphs" stroke="#1a1a1a" stroke-width="0.2">HS5 + KG1a +PFT</text>
<line x1="424.5" y1="203.6" x2="434.5" y2="203.6" stroke="#f09a3a" stroke-width="1.1"/>
<polygon points="429.4,201.51999999999998 427.32,203.6 429.4,205.68 431.47999999999996,203.6" fill="#f09a3a"/>
<text x="440.5" y="206.0" font-size="7.6" text-anchor="start" fill="#1a1a1a" textLength="48.7" lengthAdjust="spacingAndGlyphs" stroke="#1a1a1a" stroke-width="0.2">KG1a No Stroma</text>
</g>
</svg></body></html>
